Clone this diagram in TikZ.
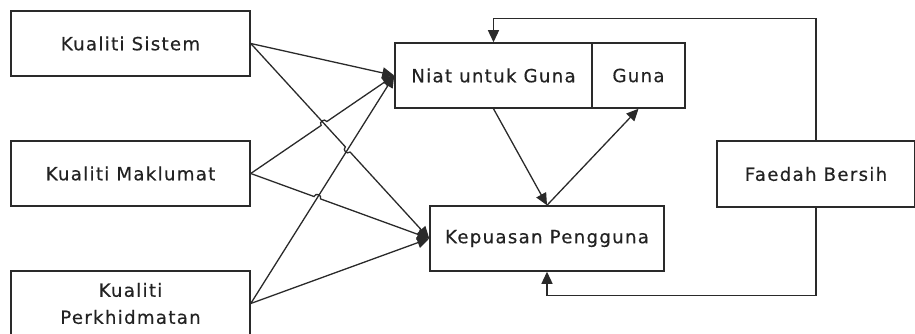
\documentclass[tikz,border=0pt]{standalone}
\usepackage{fontspec}
\newfontfamily\lblfont[LetterSpace=7,FakeBold=0.4]{DejaVu Sans}
\usetikzlibrary{arrows.meta,calc,intersections}
\definecolor{ln}{HTML}{2A2A2A}
\definecolor{tx}{HTML}{222222}
\tikzset{
  box/.style={draw=ln,line width=1.5pt,rectangle,inner sep=0pt,align=center,
    text=tx,font=\lblfont\fontsize{18.2}{27}\selectfont},
  arr/.style={draw=ln,line width=1.3pt,-{Triangle[length=12pt,width=11pt]}},
}
\begin{document}
\begin{tikzpicture}[x=1pt,y=-1pt]
\useasboundingbox (0,0) rectangle (915,334);
\node[box,minimum width=239pt,minimum height=65pt] (sis) at (130.5,43.5) {Kualiti Sistem};
\node[box,minimum width=239pt,minimum height=65pt] (mak) at (130.5,173.5) {Kualiti Maklumat};
\node[box,minimum width=239pt,minimum height=65pt] (per) at (130.5,303.5) {Kualiti\\Perkhidmatan};
\node[box,minimum width=197pt,minimum height=65pt] (niat) at (493.5,75.5) {Niat untuk Guna};
\node[box,minimum width=93pt,minimum height=65pt] (guna) at (638.5,75.5) {Guna};
\node[box,minimum width=234pt,minimum height=65pt] (kep) at (547,238.5) {Kepuasan Pengguna};
\node[box,minimum width=198pt,minimum height=66pt] (fb) at (816,174) {Faedah Bersih};
% straight lines
\draw[arr] (sis.east) -- (niat.west);
\draw[arr] (per.east) -- (kep.west);
\draw[arr,name path=p6] (per.east) -- (niat.west);
% invisible paths for crossings
\path[name path=p2] (sis.east) -- (kep.west);
\path[name path=p3] (mak.east) -- (niat.west);
\path[name path=p4] (mak.east) -- (kep.west);
\path[name intersections={of=p2 and p6,by=x26}];
\path[name intersections={of=p2 and p3,by=x23}];
\path[name intersections={of=p4 and p6,by=x46}];
\draw[arr] (sis.east) -- ($(x26)!3.5pt!(sis.east)$) to[bend right=90,looseness=1.6] ($(x26)!3.5pt!(kep.west)$) -- (kep.west);
\draw[arr] (mak.east) -- ($(x23)!3.5pt!(mak.east)$) to[bend left=90,looseness=1.6] ($(x23)!3.5pt!(niat.west)$) -- (niat.west);
\draw[arr] (mak.east) -- ($(x46)!3.5pt!(mak.east)$) to[bend left=90,looseness=1.6] ($(x46)!3.5pt!(kep.west)$) -- (kep.west);
% middle
\draw[arr] (niat.south) -- (kep.north);
\draw[arr] (kep.north) -- (guna.south);
% feedback
\draw[arr] (fb.north) -- ++(0,-122) -| (niat.north);
\draw[arr] (fb.south) -- ++(0,88) -| (kep.south);
\end{tikzpicture}
\end{document}
